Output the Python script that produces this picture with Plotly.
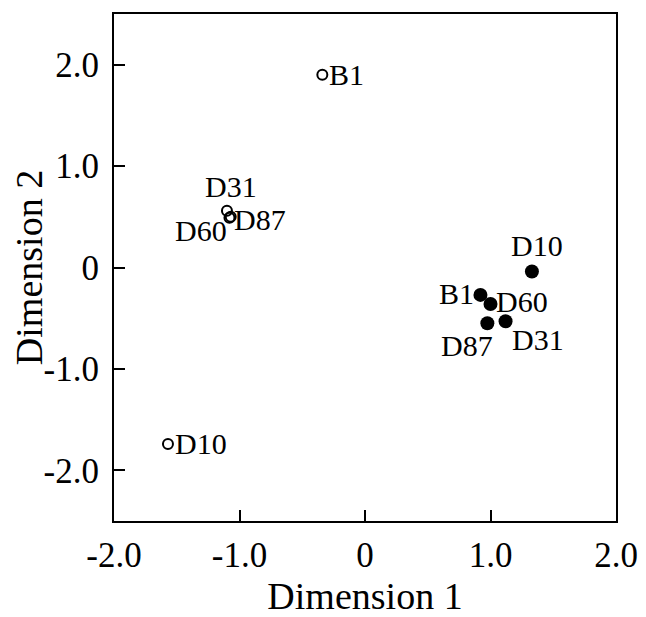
import plotly.graph_objects as go

# Open circles
open_labels = ["B1", "D31", "D60", "D87", "D10"]
open_x = [-0.34, -1.10, -1.08, -1.07, -1.57]
open_y = [1.90, 0.56, 0.49, 0.50, -1.74]

# Filled circles
fill_labels = ["D10", "B1", "D60", "D87", "D31"]
fill_x = [1.33, 0.92, 1.00, 0.975, 1.12]
fill_y = [-0.04, -0.27, -0.36, -0.55, -0.53]

x_ticks = [-2, -1, 0, 1, 2]
x_ticktext = ["-2.0", "-1.0", "0", "1.0", "2.0"]
y_ticks = [-2, -1, 0, 1, 2]
y_ticktext = ["-2.0", "-1.0", "0", "1.0", "2.0"]

FONT = "Liberation Serif, Times New Roman, serif"

fig = go.Figure()
fig.add_trace(go.Scatter(x=open_x, y=open_y, mode="markers",
                         marker=dict(symbol="circle-open", size=10, color="black",
                                     line=dict(width=2, color="black")),
                         showlegend=False))
fig.add_trace(go.Scatter(x=fill_x, y=fill_y, mode="markers",
                         marker=dict(symbol="circle", size=14, color="black"),
                         showlegend=False))

# label placement styles (xanchor, yanchor, xshift, yshift)
open_style = {
    "B1": ("left", "middle", 5, 0),
    "D31": ("center", "bottom", 4, 6),
    "D60": ("right", "top", 0, 6),
    "D87": ("left", "middle", 1, -3),
    "D10": ("left", "middle", 5, 0),
}
fill_style = {
    "D10": ("center", "bottom", 5, 8),
    "B1": ("right", "middle", -4, 1),
    "D60": ("left", "middle", 3, 3),
    "D87": ("center", "top", -20, -4),
    "D31": ("left", "top", 4, 0),
}

LABEL_SIZE = 30
for lab, x, y in zip(open_labels, open_x, open_y):
    xa, ya, xs, ys = open_style[lab]
    fig.add_annotation(x=x, y=y, text=lab, showarrow=False, xanchor=xa, yanchor=ya,
                       xshift=xs, yshift=ys, font=dict(family=FONT, size=LABEL_SIZE, color="black"))
for lab, x, y in zip(fill_labels, fill_x, fill_y):
    xa, ya, xs, ys = fill_style[lab]
    fig.add_annotation(x=x, y=y, text=lab, showarrow=False, xanchor=xa, yanchor=ya,
                       xshift=xs, yshift=ys, font=dict(family=FONT, size=LABEL_SIZE, color="black"))

axis_common = dict(showgrid=False, zeroline=False, showline=True, linecolor="black",
                   linewidth=2, mirror=True, ticks="inside", ticklen=11, tickwidth=2,
                   tickcolor="black", tickfont=dict(family=FONT, size=35, color="black"))

fig.update_layout(
    width=638, height=609,
    margin=dict(l=106, r=30, t=4, b=96),
    paper_bgcolor="white", plot_bgcolor="white",
    xaxis=dict(range=[-2.0, 2.0], tickvals=x_ticks, ticktext=x_ticktext,
               ticklabelstandoff=2,
               title=dict(text="Dimension 1", font=dict(family=FONT, size=38, color="black"),
                          standoff=6),
               **axis_common),
    yaxis=dict(range=[-2.5, 2.5], tickvals=y_ticks, ticktext=y_ticktext,
               ticklabelstandoff=6,
               title=dict(text="Dimension 2", font=dict(family=FONT, size=38, color="black"),
                          standoff=0),
               **axis_common),
)

fig.write_html("out.html")
